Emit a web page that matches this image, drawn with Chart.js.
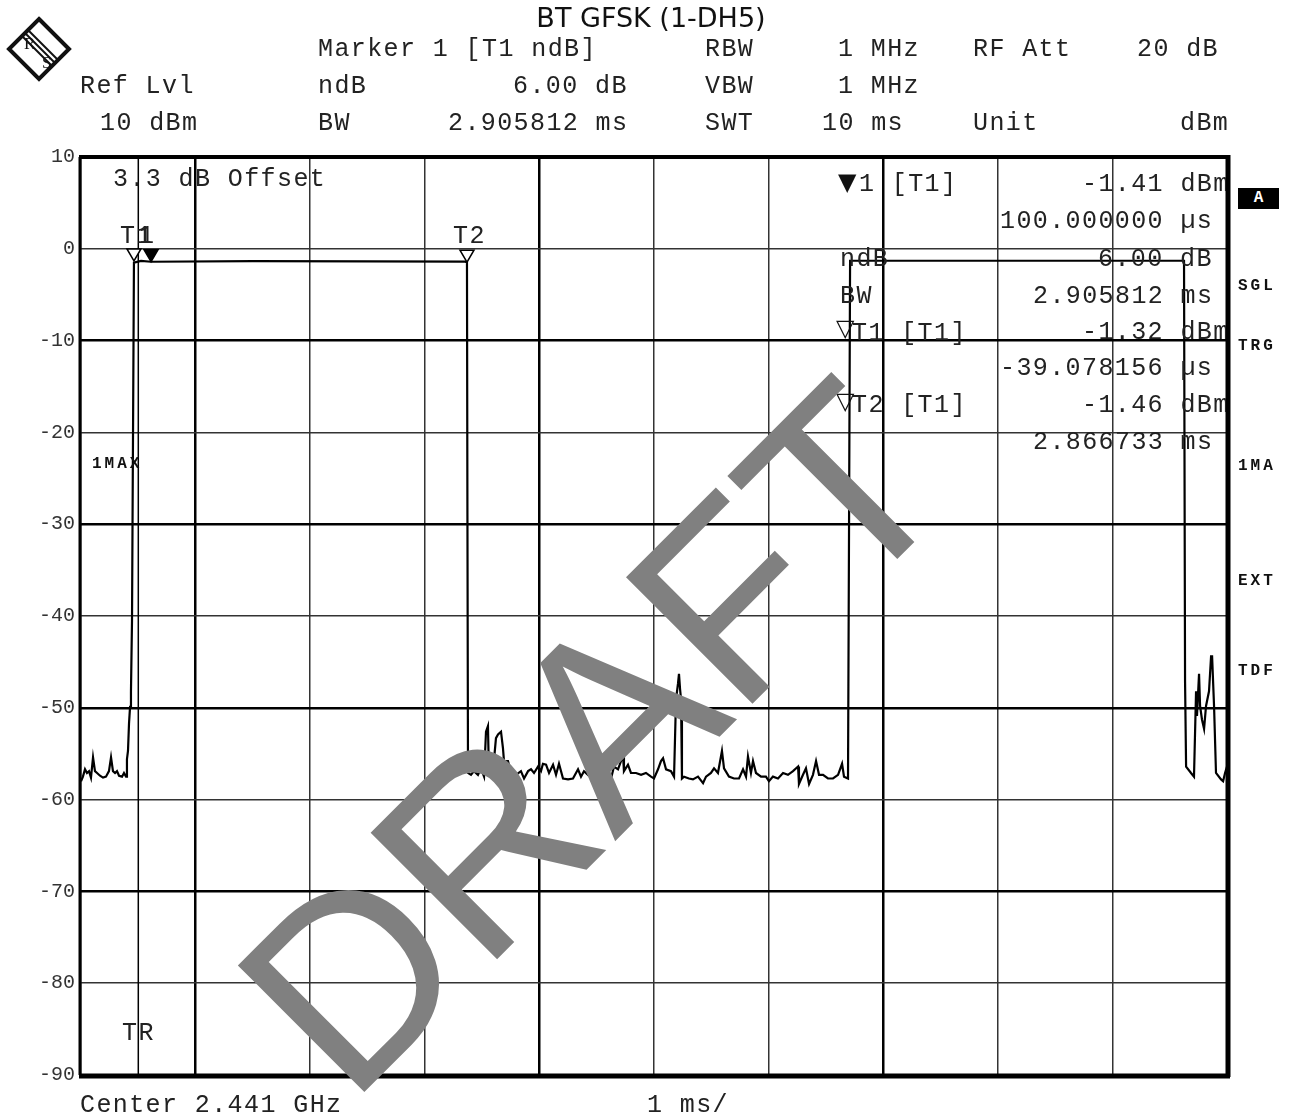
<!DOCTYPE html>
<html>
<head>
<meta charset="utf-8">
<script src="https://cdn.jsdelivr.net/npm/chart.js@4.4.1/dist/chart.umd.min.js"></script>
<style>
  body { margin: 0; background: #fff; }
  #wrap { position: relative; width: 1292px; height: 1116px; overflow: hidden; }
  canvas { position: absolute; left: 0; top: 0; }
  .t { position: absolute; font-family: "Liberation Mono", monospace; font-size: 25px; letter-spacing: 1.4px;
       line-height: 1; white-space: pre; color: #222; }
  .b { position: absolute; font-family: "Liberation Mono", monospace; font-weight: bold; font-size: 16px;
       letter-spacing: 3px; line-height: 1; white-space: pre; color: #111; }
  .g { position: absolute; font-family: "DejaVu Sans", sans-serif; font-size: 24px; line-height: 1; color: #111; }
  #clip { position: absolute; left: 0; top: 0; width: 1226px; height: 1116px; overflow: hidden; }
  #title { position: absolute; top: 2px; left: 651px; transform: translateX(-50%); font-family: "DejaVu Sans", sans-serif;
           font-size: 27px; color: #111; white-space: nowrap; }
  #boxA { position: absolute; left: 1238px; top: 188px; width: 41px; height: 21px; background: #000; color: #fff;
          font-family: "Liberation Mono", monospace; font-weight: bold; font-size: 16px; text-align: center; line-height: 21px; }
  #draft { position: absolute; left: 592px; top: 737px; transform: translate(-50%, -50%) rotate(-45deg);
           font-family: "Liberation Sans", Arial, sans-serif; font-size: 260px; line-height: 1; color: #808080; white-space: nowrap; }
</style>
</head>
<body>
<div id="wrap">
  <canvas id="chart" width="1292" height="1116"></canvas>

  <div id="title">BT GFSK (1-DH5)</div>
  <svg style="position:absolute;left:6px;top:16px" width="66" height="66" viewBox="0 0 66 66">
    <polygon points="33,3 63,33 33,63 3,33" fill="#fff" stroke="#111" stroke-width="4"/>
    <line x1="20" y1="18" x2="48" y2="46" stroke="#111" stroke-width="2"/>
    <line x1="17" y1="21" x2="45" y2="49" stroke="#111" stroke-width="2"/>
    <line x1="23" y1="15" x2="51" y2="43" stroke="#111" stroke-width="2"/>
    <text x="18" y="33" font-family="Liberation Serif" font-size="17" fill="#111">R</text>
    <text x="36" y="52" font-family="Liberation Serif" font-size="17" fill="#111">S</text>
  </svg>

  <div class="t" style="left:318px;top:37px">Marker 1 [T1 ndB]</div>
  <div class="t" style="left:705px;top:37px">RBW</div>
  <div class="t" style="left:838px;top:37px">1 MHz</div>
  <div class="t" style="left:973px;top:37px">RF Att</div>
  <div class="t" style="left:1137px;top:37px">20 dB</div>

  <div class="t" style="left:80px;top:74px">Ref Lvl</div>
  <div class="t" style="left:318px;top:74px">ndB</div>
  <div class="t" style="left:513px;top:74px">6.00 dB</div>
  <div class="t" style="left:705px;top:74px">VBW</div>
  <div class="t" style="left:838px;top:74px">1 MHz</div>

  <div class="t" style="left:100px;top:111px">10 dBm</div>
  <div class="t" style="left:318px;top:111px">BW</div>
  <div class="t" style="left:448px;top:111px">2.905812 ms</div>
  <div class="t" style="left:705px;top:111px">SWT</div>
  <div class="t" style="left:822px;top:111px">10 ms</div>
  <div class="t" style="left:973px;top:111px">Unit</div>
  <div class="t" style="left:1180px;top:111px">dBm</div>

  <div id="clip">
    <div class="t" style="left:113px;top:167px">3.3 dB Offset</div>
    <div class="t" style="left:120px;top:224px">T1</div>
    <div class="t" style="left:139px;top:224px">1</div>
    <div class="t" style="left:453px;top:224px">T2</div>
    <div class="b" style="left:92px;top:456px;letter-spacing:3px">1MAX</div>
    <div class="t" style="left:122px;top:1021px">TR</div>

    <div class="g" style="left:838px;top:170px">▼</div>
    <div class="t" style="left:859px;top:172px">1 [T1]</div>
    <div class="t" style="left:840px;top:247px">ndB</div>
    <div class="t" style="left:840px;top:284px">BW</div>
    <div class="g" style="left:836px;top:316px">▽</div>
    <div class="t" style="left:852px;top:321px">T1 [T1]</div>
    <div class="g" style="left:836px;top:389px">▽</div>
    <div class="t" style="left:852px;top:393px">T2 [T1]</div>

    <div class="t" style="left:1082px;top:172px">-1.41 dBm</div>
    <div class="t" style="left:1000px;top:209px">100.000000 µs</div>
    <div class="t" style="left:1098px;top:247px">6.00 dB</div>
    <div class="t" style="left:1033px;top:284px">2.905812 ms</div>
    <div class="t" style="left:1082px;top:320px">-1.32 dBm</div>
    <div class="t" style="left:1000px;top:356px">-39.078156 µs</div>
    <div class="t" style="left:1082px;top:393px">-1.46 dBm</div>
    <div class="t" style="left:1033px;top:430px">2.866733 ms</div>
  </div>

  <div id="boxA">A</div>
  <div class="b" style="left:1238px;top:278px">SGL</div>
  <div class="b" style="left:1238px;top:338px">TRG</div>
  <div class="b" style="left:1238px;top:458px">1MA</div>
  <div class="b" style="left:1238px;top:573px">EXT</div>
  <div class="b" style="left:1238px;top:663px">TDF</div>

  <div class="t" style="left:80px;top:1093px">Center 2.441 GHz</div>
  <div class="t" style="left:647px;top:1093px">1 ms/</div>

  <div id="draft">DRAFT</div>
</div>

<script>
// sweep time axis in ms (0..10), level in dBm
const traceTime = [
  0, 0.017, 0.035, 0.052, 0.070, 0.087, 0.105, 0.122, 0.140, 0.166, 0.192, 0.218, 0.244, 0.262, 0.279,
  0.297, 0.314, 0.332, 0.358, 0.375, 0.393, 0.401, 0.410, 0.419, 0.428, 0.436, 0.445, 0.462,
  0.524, 0.611, 1.5, 2.5, 3.351, 3.368, 3.372, 3.377,
  3.403, 3.429, 3.464, 3.490, 3.517, 3.534, 3.551, 3.560, 3.595, 3.621, 3.639, 3.665, 3.682, 3.691,
  3.726, 3.752, 3.796, 3.839, 3.866, 3.901, 3.927, 3.953, 3.988, 4.014, 4.031, 4.058, 4.084, 4.119,
  4.145, 4.171, 4.206, 4.250, 4.293, 4.337, 4.363, 4.389, 4.424, 4.450, 4.476, 4.511, 4.538, 4.564,
  4.599, 4.625, 4.651, 4.686, 4.712, 4.730, 4.738, 4.773, 4.799, 4.843, 4.887, 4.930, 4.974, 5.000,
  5.035, 5.061, 5.079, 5.105, 5.148, 5.175, 5.192, 5.209, 5.218, 5.227, 5.236, 5.244, 5.262, 5.305,
  5.340, 5.384, 5.428, 5.454, 5.497, 5.524, 5.558, 5.593, 5.611, 5.654, 5.698, 5.742, 5.777, 5.803,
  5.820, 5.846, 5.864, 5.890, 5.934, 5.977, 6.003, 6.038, 6.082, 6.126, 6.169, 6.213, 6.257, 6.265,
  6.300, 6.326, 6.353, 6.387, 6.414, 6.440, 6.475, 6.518, 6.562, 6.606, 6.641, 6.658, 6.693,
  6.702, 6.711, 8.0, 9.0, 9.625,
  9.634, 9.643, 9.686, 9.712, 9.730, 9.738, 9.756, 9.765, 9.782, 9.800, 9.817, 9.843, 9.861, 9.870,
  9.887, 9.904, 9.948, 9.966, 9.983, 10.0
];
const traceLevel = [
  -58.0, -57.5, -56.7, -57.1, -56.9, -57.6, -55.4, -56.9, -57.1, -57.4, -57.6, -57.5, -56.9, -55.4, -56.9,
  -57.1, -56.9, -57.4, -57.5, -57.1, -57.5, -55.6, -54.7, -51.7, -49.9, -48.2, -40.6, -1.5,
  -1.32, -1.41, -1.35, -1.38, -1.40, -1.46, -29.1, -57.1,
  -57.3, -56.9, -57.3, -56.6, -57.5, -52.6, -52.0, -57.3, -56.9, -53.3, -52.9, -52.6, -54.4, -55.8,
  -55.8, -57.1, -57.3, -56.9, -57.7, -56.9, -56.7, -57.1, -56.4, -56.9, -56.1, -56.2, -57.1, -56.2,
  -57.3, -56.1, -57.7, -57.8, -57.7, -56.7, -57.5, -56.9, -57.3, -56.6, -57.5, -56.2, -57.3, -56.7,
  -57.5, -57.7, -56.4, -56.7, -55.8, -55.3, -56.9, -56.2, -57.1, -57.1, -57.3, -57.1, -57.5, -57.7,
  -56.7, -55.8, -55.5, -56.7, -56.9, -57.5, -49.1, -47.4, -46.3, -47.9, -49.1, -57.7, -57.5, -57.7,
  -57.8, -57.5, -58.2, -57.5, -57.1, -56.6, -57.1, -54.7, -56.6, -57.5, -57.7, -57.7, -56.7, -57.5,
  -55.3, -57.1, -55.8, -57.1, -57.5, -57.5, -58.0, -57.5, -57.7, -57.1, -57.3, -56.9, -56.4, -58.3,
  -57.3, -56.6, -58.3, -57.3, -55.8, -57.3, -57.3, -57.7, -57.7, -57.3, -56.1, -57.5, -57.7,
  -30.0, -1.3, -1.3, -1.3, -1.3,
  -47.1, -56.4, -57.1, -57.5, -48.2, -50.9, -46.3, -49.8, -51.3, -52.3, -49.8, -48.2, -44.4, -44.4,
  -49.8, -57.1, -57.8, -58.0, -57.1, -56.4
];

// markers: T1, 1, T2
const markerTimes = [0.462, 0.611, 3.368];
const markerLevels = [-1.32, -1.41, -1.46];
const markerFilled = [false, true, false];
const triggerTime = 0.5;

const yTicks = [10, 0, -10, -20, -30, -40, -50, -60, -70, -80, -90];

const overlay = {
  id: 'overlay',
  afterDatasetsDraw(chart) {
    const { ctx, chartArea: a, scales: { x, y } } = chart;
    ctx.save();
    // trigger line
    const tx = x.getPixelForValue(triggerTime);
    ctx.strokeStyle = '#000';
    ctx.lineWidth = 1.5;
    ctx.beginPath(); ctx.moveTo(tx, a.top); ctx.lineTo(tx, a.bottom); ctx.stroke();

    // marker triangles
    markerTimes.forEach((t, i) => {
      const px = x.getPixelForValue(t), py = y.getPixelForValue(markerLevels[i]);
      ctx.beginPath();
      ctx.moveTo(px, py);
      ctx.lineTo(px - 7, py - 12);
      ctx.lineTo(px + 7, py - 12);
      ctx.closePath();
      ctx.fillStyle = markerFilled[i] ? '#000' : '#fff';
      ctx.fill();
      ctx.lineWidth = 1.5;
      ctx.stroke();
    });

    // frame
    ctx.lineWidth = 3;
    ctx.beginPath(); ctx.moveTo(a.left - 1, a.top); ctx.lineTo(a.left - 1, a.bottom); ctx.stroke();
    ctx.lineWidth = 4;
    ctx.beginPath(); ctx.moveTo(a.left - 2, a.top); ctx.lineTo(a.right + 2, a.top); ctx.stroke();
    ctx.lineWidth = 5;
    ctx.beginPath(); ctx.moveTo(a.right + 1, a.top - 2); ctx.lineTo(a.right + 1, a.bottom + 2); ctx.stroke();
    ctx.beginPath(); ctx.moveTo(a.left - 2, a.bottom + 1); ctx.lineTo(a.right + 3, a.bottom + 1); ctx.stroke();
    ctx.restore();
  }
};

new Chart(document.getElementById('chart'), {
  type: 'line',
  data: {
    datasets: [{
      data: traceTime.map((t, i) => ({ x: t, y: traceLevel[i] })),
      borderColor: '#000',
      borderWidth: 2.2,
      pointRadius: 0,
      tension: 0,
      fill: false
    }]
  },
  options: {
    responsive: false,
    animation: false,
    layout: { padding: { left: 0, top: 157, right: 65, bottom: 41 } },
    plugins: { legend: { display: false }, tooltip: { enabled: false } },
    scales: {
      x: {
        type: 'linear', min: 0, max: 10,
        ticks: { stepSize: 1, display: false },
        grid: {
          drawTicks: false,
          color: c => (c.tick && c.tick.value % 3 === 1) ? '#000' : '#333',
          lineWidth: c => (c.tick && c.tick.value % 3 === 1) ? 2.5 : 1.5
        },
        border: { display: false },
        afterFit: s => { s.height = 0; }
      },
      y: {
        min: -90, max: 10,
        afterBuildTicks: s => { s.ticks = yTicks.map(v => ({ value: v })); },
        ticks: {
          padding: 6,
          color: '#333',
          font: { family: 'Liberation Mono', size: 20 },
          callback: v => String(v)
        },
        grid: {
          drawTicks: false,
          color: c => (c.tick && Math.abs(c.tick.value / 10) % 2 === 1) ? '#000' : '#333',
          lineWidth: c => (c.tick && Math.abs(c.tick.value / 10) % 2 === 1) ? 2.5 : 1.5
        },
        border: { display: false },
        afterFit: s => { s.width = 81; }
      }
    }
  },
  plugins: [overlay]
});
</script>
</body>
</html>
